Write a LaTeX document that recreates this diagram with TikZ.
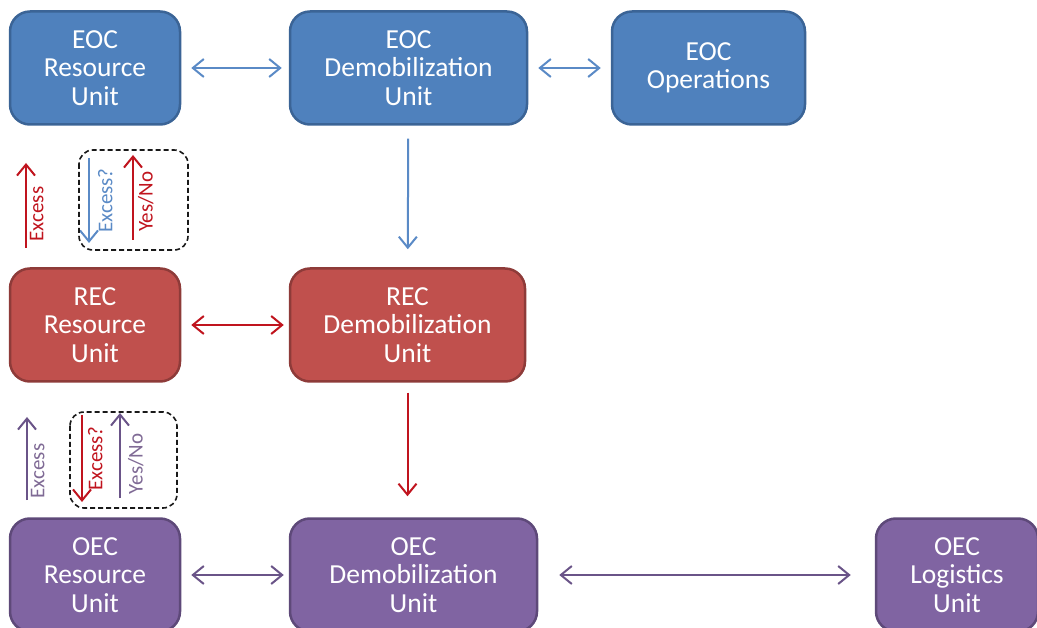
\documentclass[tikz,border=0pt]{standalone}
\usepackage{fontspec}
\setmainfont{Carlito}
\usetikzlibrary{arrows.meta}
\definecolor{eocfill}{HTML}{4F81BD}
\definecolor{eocline}{HTML}{3B6496}
\definecolor{recfill}{HTML}{C0504D}
\definecolor{recline}{HTML}{8E3B39}
\definecolor{oecfill}{HTML}{8064A2}
\definecolor{oecline}{HTML}{5E4979}
\definecolor{eocarrow}{HTML}{5A8AC6}
\definecolor{recarrow}{HTML}{C0141E}
\definecolor{oecarrow}{HTML}{6A5488}
\definecolor{oectag}{HTML}{7F6A95}
\tikzset{
  unit/.style={rounded corners=20pt, line width=2.5pt, text=white, align=center,
    minimum height=113pt, font=\fontsize{27.5}{28.5}\selectfont},
  eocunit/.style={unit, fill=eocfill, draw=eocline},
  recunit/.style={unit, fill=recfill, draw=recline},
  oecunit/.style={unit, fill=oecfill, draw=oecline},
  link/.style={line width=2pt, {Straight Barb[length=11pt,width=18pt]}-{Straight Barb[length=11pt,width=18pt]}},
  flow/.style={line width=2pt, -{Straight Barb[length=11pt,width=18pt]}},
  tag/.style={anchor=north, rotate=90, inner sep=3pt, font=\fontsize{21}{21}\selectfont},
  dashbox/.style={draw=black!90, dash pattern=on 5pt off 3pt, line width=1.6pt, rounded corners=14pt}
}
\begin{document}
\begin{tikzpicture}[x=1pt, y=-1pt]
      \useasboundingbox (0,0) rectangle (1037,628);
      \draw
        (95,68) node[eocunit, minimum width=170pt] (eocres){EOC\\Resource\\Unit}
        (408.5,68) node[eocunit, minimum width=237pt] (eocdemob){EOC\\Demobilization\\Unit}
        (708.5,68) node[eocunit, minimum width=193pt] (eocops){EOC\\Operations}
        (95,325) node[recunit, minimum width=170pt] (recres){REC\\Resource\\Unit}
        (407.5,325) node[recunit, minimum width=235pt] (recdemob){REC\\Demobilization\\Unit}
        (95,575) node[oecunit, minimum width=170pt] (oecres){OEC\\Resource\\Unit}
        (413.5,575) node[oecunit, minimum width=247pt] (oecdemob){OEC\\Demobilization\\Unit}
        (957,575) node[oecunit, minimum width=162pt] (oeclog){OEC\\Logistics\\Unit};
      \coordinate (ra1) at (26,248);  \coordinate (ra2) at (26,163);
      \coordinate (rb1) at (89,158);  \coordinate (rb2) at (89,243);
      \coordinate (rc1) at (133,240); \coordinate (rc2) at (133,155);
      \coordinate (oa1) at (27,500);  \coordinate (oa2) at (27,417);
      \coordinate (ob1) at (82,415);  \coordinate (ob2) at (82,502);
      \coordinate (oc1) at (120,498); \coordinate (oc2) at (120,413);
      \begin{scope}[eocarrow]
        \draw[link, shorten <=10pt, shorten >=7pt] (eocres) to (eocdemob);
        \draw[link, shorten <=10pt, shorten >=10pt] (eocdemob) to (eocops);
        \draw[flow, shorten <=13pt, shorten >=18pt] (eocdemob) to (recdemob);
      \end{scope}
      \begin{scope}[recarrow]
        \draw[link, shorten <=10pt, shorten >=5pt] (recres) to (recdemob);
        \draw[flow, shorten <=10pt, shorten >=21pt] (recdemob.south) to (recdemob.south |- oecdemob.north);
      \end{scope}
      \begin{scope}[oecarrow]
        \draw[link, shorten <=10pt, shorten >=5pt] (oecres) to (oecdemob);
        \draw[link, shorten <=21pt, shorten >=24pt] (oecdemob) to (oeclog);
      \end{scope}
      % REC -> EOC
      \draw[flow, recarrow] (ra1) to node[tag, pos=.4, text=recarrow]{Excess} (ra2);
      \draw[flow, eocarrow] (rb1) to node[tag, pos=.5, inner sep=8pt, text=eocarrow]{Excess?} (rb2);
      \draw[flow, recarrow] (rc1) to node[tag, pos=.45, inner sep=4pt, text=recarrow]{Yes/No} (rc2);
      \draw[dashbox] (79,150) rectangle (188,250);
      % OEC -> REC
      \draw[flow, oecarrow] (oa1) to node[tag, pos=.35, text=oectag]{Excess} (oa2);
      \draw[flow, recarrow] (ob1) to node[tag, pos=.5, inner sep=5pt, text=recarrow]{Excess?} (ob2);
      \draw[flow, oecarrow] (oc1) to node[tag, pos=.4, inner sep=7pt, text=oectag]{Yes/No} (oc2);
      \draw[dashbox] (70,412) rectangle (177,508);
    \end{tikzpicture}
\end{document}
